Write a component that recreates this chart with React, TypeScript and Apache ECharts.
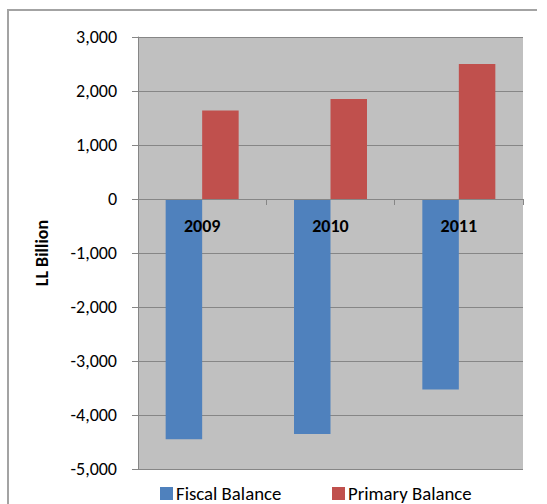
import React, { useEffect, useRef } from "react";
import * as echarts from "echarts";

const categories = ["2009", "2010", "2011"];
const fiscalBalance = [-4450, -4350, -3530];
const primaryBalance = [1640, 1850, 2500];
const seriesNames = ["Fiscal Balance", "Primary Balance"];
const yMin = -5000;
const yMax = 3000;
const yStep = 1000;

const FONT = "Carlito, Lato, sans-serif";
const GRID_TOP = 37;
const GRID_BOTTOM = 35;
const CHART_H = 504;

export default function App() {
  const ref = useRef<HTMLDivElement>(null);
  useEffect(() => {
    if (!ref.current) return;
    const chart = echarts.init(ref.current, undefined, { renderer: "svg" });
    const plotH = CHART_H - GRID_TOP - GRID_BOTTOM;
    const zeroOffset = -plotH * (0 - yMin) / (yMax - yMin);
    const legendText = {
      fontFamily: FONT,
      fontSize: 18.8,
      lineHeight: 16,
      color: "#000",
      padding: [0, 0, 0, -2],
    };
    chart.setOption({
      animation: false,
      backgroundColor: "#ffffff",
      textStyle: { fontFamily: FONT },
      graphic: [
        {
          type: "polyline",
          shape: { points: [[8, 504], [8, 10], [537, 10]] },
          style: { stroke: "#a3a3a3", lineWidth: 2, fill: "none" },
          silent: true,
        },
      ],
      grid: {
        left: 138,
        right: 24,
        top: GRID_TOP,
        bottom: GRID_BOTTOM,
        show: true,
        backgroundColor: "#c0c0c0",
        borderWidth: 0,
      },
      legend: [
        {
          data: [seriesNames[0]],
          left: 160,
          top: 484,
          padding: 0,
          icon: "rect",
          itemWidth: 13,
          itemHeight: 13,
          itemGap: 0,
          textStyle: legendText,
        },
        {
          data: [seriesNames[1]],
          left: 332,
          top: 484,
          padding: 0,
          icon: "rect",
          itemWidth: 13,
          itemHeight: 13,
          itemGap: 0,
          textStyle: legendText,
        },
      ],
      xAxis: {
        type: "category",
        data: categories,
        position: "bottom",
        offset: zeroOffset,
        z: 10,
        axisLine: { show: true, onZero: false, lineStyle: { color: "#868686", width: 1 } },
        axisTick: { show: true, length: 6, alignWithLabel: false, interval: 0, lineStyle: { color: "#868686" } },
        axisLabel: {
          fontFamily: FONT,
          fontSize: 18,
          fontWeight: "bold",
          color: "#000",
          margin: 18,
          interval: 0,
        },
        splitLine: { show: false },
      },
      yAxis: {
        type: "value",
        min: yMin,
        max: yMax,
        interval: yStep,
        name: "LL Billion",
        nameLocation: "middle",
        nameGap: 87,
        nameTextStyle: { fontFamily: FONT, fontSize: 18, fontWeight: "bold", color: "#000" },
        axisLine: { show: true, lineStyle: { color: "#868686", width: 1 } },
        axisTick: { show: true, length: 6, inside: false, lineStyle: { color: "#868686" } },
        axisLabel: {
          fontFamily: FONT,
          fontSize: 18,
          color: "#000",
          margin: 21,
          formatter: (v: number) => v.toLocaleString("en-US"),
        },
        splitLine: { show: true, lineStyle: { color: "#868686", width: 1 } },
      },
      series: [
        {
          name: seriesNames[0],
          type: "bar",
          data: fiscalBalance,
          barWidth: 36.5,
          barGap: "0%",
          itemStyle: { color: "#4f81bd" },
        },
        {
          name: seriesNames[1],
          type: "bar",
          data: primaryBalance,
          barWidth: 36.5,
          barGap: "0%",
          itemStyle: { color: "#c0504d" },
        },
      ],
    });
    return () => chart.dispose();
  }, []);
  return (
    <div
      ref={ref}
      style={{ position: "fixed", left: 0, top: 0, width: 547, height: 504 }}
    />
  );
}
